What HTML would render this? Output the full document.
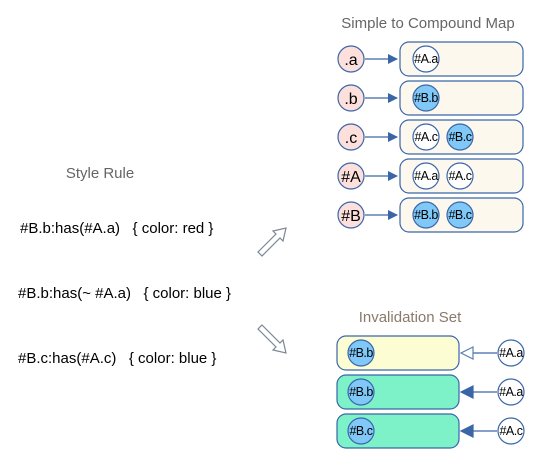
<!DOCTYPE html>
<html><head><style>body{margin:0;background:#fff} text{white-space:pre}</style></head><body>
<svg width="551" height="461" xmlns="http://www.w3.org/2000/svg" font-family="Liberation Sans, sans-serif" xml:space="preserve">
<defs>
<marker id="af" markerWidth="10" markerHeight="10" refX="9" refY="5" orient="auto" markerUnits="userSpaceOnUse"><path d="M0,0 L10,5 L0,10 z" fill="#3a66a8"/></marker>
</defs>
<text x="100" y="178" font-size="15" fill="#666" text-anchor="middle">Style Rule</text>
<g font-size="15" fill="#000">
<text x="20" y="233">#B.b:has(#A.a)   { color: red }</text>
<text x="18" y="298">#B.b:has(~ #A.a)   { color: blue }</text>
<text x="18" y="363">#B.c:has(#A.c)   { color: blue }</text>
</g>
<text x="428" y="28" font-size="15" fill="#666" text-anchor="middle">Simple to Compound Map</text>
<text x="410" y="322" font-size="15" fill="#8a7a6a" text-anchor="middle">Invalidation Set</text>
<g fill="none" stroke="#7a8796" stroke-width="1.2">
<path d="M258,252 L276,234 L273,231 L286,228 L283,241 L280,238 L262,256 z"/>
<path d="M262,325 L280,343 L283,340 L286,353 L273,350 L276,347 L258,329 z"/>
</g>
<g font-size="14" text-anchor="middle" stroke-width="1.2">
<g stroke="#3a66a8">
<rect x="400" y="42" width="123" height="34" rx="9" fill="#fdf8ee"/>
<rect x="400" y="81" width="123" height="34" rx="9" fill="#fdf8ee"/>
<rect x="400" y="120" width="123" height="34" rx="9" fill="#fdf8ee"/>
<rect x="400" y="159" width="123" height="34" rx="9" fill="#fdf8ee"/>
<rect x="400" y="198" width="123" height="34" rx="9" fill="#fdf8ee"/>
<line x1="365" y1="59" x2="397" y2="59" marker-end="url(#af)"/>
<line x1="365" y1="98" x2="397" y2="98" marker-end="url(#af)"/>
<line x1="365" y1="137" x2="397" y2="137" marker-end="url(#af)"/>
<line x1="365" y1="176" x2="397" y2="176" marker-end="url(#af)"/>
<line x1="365" y1="215" x2="397" y2="215" marker-end="url(#af)"/>
<circle cx="351" cy="59" r="13" fill="#fde0dc"/>
<circle cx="351" cy="98" r="13" fill="#fde0dc"/>
<circle cx="351" cy="137" r="13" fill="#fde0dc"/>
<circle cx="351" cy="176" r="13" fill="#fde0dc"/>
<circle cx="351" cy="215" r="13" fill="#fde0dc"/>
<circle cx="426" cy="59" r="13" fill="#fff"/>
<circle cx="426" cy="98" r="13" fill="#80c8f8"/>
<circle cx="426" cy="137" r="13" fill="#fff"/>
<circle cx="460" cy="137" r="13" fill="#80c8f8"/>
<circle cx="426" cy="176" r="13" fill="#fff"/>
<circle cx="460" cy="176" r="13" fill="#fff"/>
<circle cx="426" cy="215" r="13" fill="#80c8f8"/>
<circle cx="460" cy="215" r="13" fill="#80c8f8"/>
<rect x="337" y="336" width="122" height="34" rx="9" fill="#fdfdd4"/>
<rect x="337" y="375" width="122" height="34" rx="9" fill="#7df2c9"/>
<rect x="337" y="414" width="122" height="34" rx="9" fill="#7df2c9"/>
<line x1="497" y1="353" x2="473" y2="353"/>
<line x1="497" y1="392" x2="473" y2="392"/>
<line x1="497" y1="431" x2="473" y2="431"/>
<path d="M473,347 L461,353 L473,359 z" fill="#fff" stroke="#5a7fb8"/>
<path d="M473,386 L461,392 L473,398 z" fill="#3a66a8"/>
<path d="M473,425 L461,431 L473,437 z" fill="#3a66a8"/>
<circle cx="361" cy="353" r="13" fill="#80c8f8"/>
<circle cx="361" cy="392" r="13" fill="#80c8f8"/>
<circle cx="361" cy="431" r="13" fill="#80c8f8"/>
<circle cx="511" cy="353" r="13" fill="#fff"/>
<circle cx="511" cy="392" r="13" fill="#fff"/>
<circle cx="511" cy="431" r="13" fill="#fff"/>
</g>
<g fill="#000" font-size="16">
<text x="351" y="65">.a</text><text x="351" y="104">.b</text><text x="351" y="143">.c</text>
<text x="351" y="182">#A</text><text x="351" y="221">#B</text>
</g>
<g fill="#000" font-size="12.5" letter-spacing="-0.5">
<text x="426" y="63">#A.a</text><text x="426" y="102">#B.b</text>
<text x="426" y="141">#A.c</text><text x="460" y="141">#B.c</text>
<text x="426" y="180">#A.a</text><text x="460" y="180">#A.c</text>
<text x="426" y="219">#B.b</text><text x="460" y="219">#B.c</text>
<text x="361" y="357">#B.b</text><text x="361" y="396">#B.b</text><text x="361" y="435">#B.c</text>
<text x="511" y="357">#A.a</text><text x="511" y="396">#A.a</text><text x="511" y="435">#A.c</text>
</g>
</g>
</svg>
</body></html>
